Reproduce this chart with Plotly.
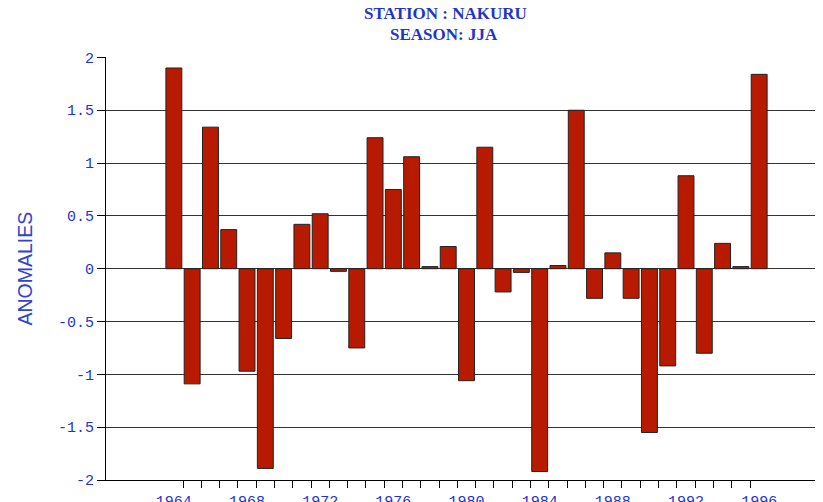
import plotly.graph_objects as go

years = list(range(1964, 1997))
anomalies = [1.90, -1.09, 1.34, 0.37, -0.97, -1.89, -0.66, 0.42, 0.52, -0.025,
             -0.75, 1.24, 0.75, 1.06, 0.02, 0.21, -1.06, 1.15, -0.22, -0.035,
             -1.92, 0.03, 1.50, -0.28, 0.15, -0.28, -1.55, -0.92, 0.88, -0.80,
             0.24, 0.02, 1.84]
label_years = [1964, 1968, 1972, 1976, 1980, 1984, 1988, 1992, 1996]
y_ticks = [-2, -1.5, -1, -0.5, 0, 0.5, 1, 1.5, 2]
y_tick_text = ["-2", "-1.5", "-1", "-0.5", "0", "0.5", "1", "1.5", "2"]
boundaries = [y + 0.5 for y in years[:-1]]

BLUE = "#1f35c8"
MONO = "Liberation Mono"

fig = go.Figure()
fig.add_trace(go.Bar(
    x=years, y=anomalies, width=0.87,
    marker=dict(color="#b81a00", line=dict(color="#222222", width=1)),
))

# page body adds an ~8px offset, so the figure is sized/positioned to compensate
fig.update_layout(
    width=815, height=494,
    margin=dict(l=98, r=0, t=49, b=22, autoexpand=False),
    paper_bgcolor="white", plot_bgcolor="white",
    showlegend=False,
    xaxis=dict(
        range=[1960.29, 1999.49], automargin=False,
        tickvals=label_years, ticktext=[str(v) for v in label_years],
        ticks="outside", ticklen=7, tickcolor="rgba(0,0,0,0)",
        tickfont=dict(family=MONO, size=15, color=BLUE),
        showgrid=False, zeroline=False,
        showline=True, linecolor="black", linewidth=1,
        minor=dict(tickvals=boundaries, ticks="outside", ticklen=7,
                   tickcolor="black", tickwidth=1, showgrid=False),
    ),
    yaxis=dict(
        range=[-2, 2.004], automargin=False,
        tickvals=y_ticks, ticktext=y_tick_text,
        ticks="outside", ticklen=8, tickcolor="black", tickwidth=1,
        tickfont=dict(family=MONO, size=15, color=BLUE),
        showgrid=True, gridcolor="#333333", gridwidth=1,
        zeroline=False,
        showline=True, linecolor="black", linewidth=1,
    ),
    annotations=[
        dict(text="<b>STATION : NAKURU</b>", xref="paper", yref="paper",
             x=(445 - 106) / 717, y=(480 - 14) / 423, xanchor="center", yanchor="middle",
             showarrow=False, font=dict(family="Liberation Serif", size=17, color=BLUE)),
        dict(text="<b>SEASON: JJA</b>", xref="paper", yref="paper",
             x=(444 - 106) / 717, y=(480 - 34) / 423, xanchor="center", yanchor="middle",
             showarrow=False, font=dict(family="Liberation Serif", size=17, color=BLUE)),
        dict(text="ANOMALIES", xref="paper", yref="paper",
             x=(24 - 106) / 717, y=0.5, xanchor="center", yanchor="middle",
             textangle=-90, showarrow=False,
             font=dict(family="Liberation Sans", size=19.5, color="#3344cc")),
    ],
)

fig.write_html("out.html")
